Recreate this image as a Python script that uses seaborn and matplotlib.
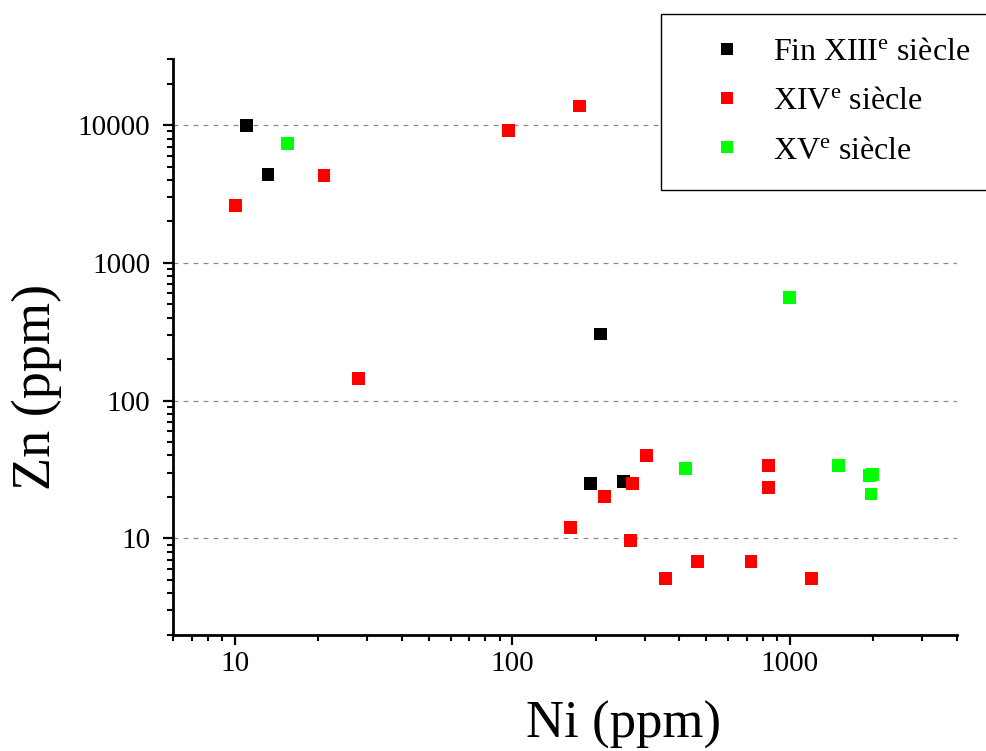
import numpy as np
import pandas as pd
import matplotlib
matplotlib.use("Agg")
import matplotlib.pyplot as plt
import seaborn as sns
from matplotlib.ticker import LogLocator, FixedLocator, NullFormatter

# ---------------------------------------------------------------------------
# Data (Ni / Zn in ppm)
# ---------------------------------------------------------------------------
periods = ["Fin XIII$^{\\mathrm{e}}$ siècle",
           "XIV$^{\\mathrm{e}}$ siècle",
           "XV$^{\\mathrm{e}}$ siècle"]
colors = ["#000000", "#ff0000", "#00ff00"]

fin13_ni = [11, 13.2, 208, 191, 252]
fin13_zn = [9900, 4400, 305, 25, 26]

c14_ni = [10.1, 21, 97, 175, 28, 305, 162, 215, 272, 267, 356, 466, 725, 840, 835, 1200]
c14_zn = [2600, 4300, 9100, 13800, 145, 40, 12, 20, 25, 9.6, 5.1, 6.8, 6.8, 34, 23.5, 5.1]

c15_ni = [15.5, 1000, 420, 1500, 1940, 1980, 1960]
c15_zn = [7400, 560, 32, 34, 28.5, 29, 21]

x_ticks = [10, 100, 1000]
y_ticks = [10, 100, 1000, 10000]

df = pd.concat([
    pd.DataFrame({"Ni": fin13_ni, "Zn": fin13_zn, "period": periods[0]}),
    pd.DataFrame({"Ni": c14_ni, "Zn": c14_zn, "period": periods[1]}),
    pd.DataFrame({"Ni": c15_ni, "Zn": c15_zn, "period": periods[2]}),
], ignore_index=True)

# ---------------------------------------------------------------------------
# Style
# ---------------------------------------------------------------------------
sns.set_style("ticks")
plt.rcParams["font.family"] = ["Liberation Serif", "DejaVu Serif"]
plt.rcParams["mathtext.fontset"] = "custom"
plt.rcParams["mathtext.rm"] = "Liberation Serif"
plt.rcParams["mathtext.it"] = "Liberation Serif:italic"
plt.rcParams["text.color"] = "black"
plt.rcParams["axes.labelcolor"] = "black"
plt.rcParams["xtick.color"] = "black"
plt.rcParams["ytick.color"] = "black"

fig = plt.figure(figsize=(9.87, 7.51), dpi=100)
ax = fig.add_axes([0.1753, 0.155, 0.7943, 0.7658])

sns.scatterplot(data=df, x="Ni", y="Zn", hue="period", hue_order=periods,
                palette=colors, marker="s", s=85, linewidth=0, ax=ax)

ax.set_xscale("log")
ax.set_yscale("log")
ax.set_xlim(6, 4000)
ax.set_ylim(2, 30000)

ax.xaxis.set_major_locator(FixedLocator(x_ticks))
ax.yaxis.set_major_locator(FixedLocator(y_ticks))
ax.set_xticklabels([str(t) for t in x_ticks])
ax.set_yticklabels([str(t) for t in y_ticks])
ax.xaxis.set_minor_locator(LogLocator(base=10, subs=np.arange(2, 10), numticks=20))
ax.yaxis.set_minor_locator(LogLocator(base=10, subs=np.arange(2, 10), numticks=20))
ax.xaxis.set_minor_formatter(NullFormatter())
ax.yaxis.set_minor_formatter(NullFormatter())

ax.tick_params(which="major", direction="out", length=7.5, width=1.6,
               labelsize=21, colors="black")
ax.tick_params(axis="x", which="major", pad=4)
ax.tick_params(axis="y", which="major", pad=9)
ax.tick_params(which="minor", direction="out", length=4, width=1.5, color="black")

sns.despine(ax=ax)
for side in ["left", "bottom"]:
    ax.spines[side].set_linewidth(2)
    ax.spines[side].set_color("black")

ax.yaxis.grid(True, which="major", linestyle=(0, (4, 4)), color="#8c8c8c", linewidth=0.9)
ax.xaxis.grid(False)
ax.set_axisbelow(True)

ax.set_xlabel("Ni (ppm)", fontsize=38)
ax.set_ylabel("Zn (ppm)", fontsize=39)
ax.xaxis.set_label_coords(0.575, -0.116)
ax.yaxis.set_label_coords(-0.142, 0.43)

handles, labels = ax.get_legend_handles_labels()
for h in handles:
    h.set_markersize(9.2)
    h.set_markeredgewidth(0)
leg = ax.legend(handles, labels, loc="upper left",
                bbox_to_anchor=(661 / 987, 1 - 14 / 751),
                bbox_transform=fig.transFigure, borderaxespad=0,
                fontsize=23, frameon=True, fancybox=False,
                borderpad=0.75, labelspacing=0.62,
                handlelength=2.65, handletextpad=0.1)
leg.get_frame().set_edgecolor("black")
leg.get_frame().set_linewidth(1.0)
leg.get_frame().set_alpha(1)

fig.savefig("out.png", dpi=100)
